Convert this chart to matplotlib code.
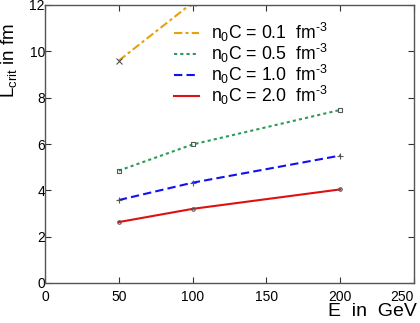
import matplotlib
matplotlib.use("Agg")
import matplotlib.pyplot as plt

plt.rcParams['font.family'] = ['Liberation Sans', 'DejaVu Sans']
plt.rcParams['mathtext.fontset'] = 'custom'
plt.rcParams['mathtext.rm'] = 'Liberation Sans'
plt.rcParams['mathtext.it'] = 'Liberation Sans'

energies = [50, 100, 200]
l_01 = [9.6, 12.1, 14.5]
l_05 = [4.85, 5.98, 7.47]
l_10 = [3.58, 4.33, 5.5]
l_20 = [2.63, 3.2, 4.04]
labels = ["n$_0$C = 0.1  fm$^{\u20103}$", "n$_0$C = 0.5  fm$^{\u20103}$",
          "n$_0$C = 1.0  fm$^{\u20103}$", "n$_0$C = 2.0  fm$^{\u20103}$"]
xticks = [0, 50, 100, 150, 200, 250]
yticks = [0, 2, 4, 6, 8, 10, 12]

fig = plt.figure(figsize=(4.2, 3.23), dpi=100)
ax = fig.add_axes([45/420, 40/323, 369/420, 278/323])

mc = '#555555'
ax.plot(energies, l_01, color='#e6a010', lw=1.5, dashes=(4, 1.5, 1.5, 1.5),
        marker='x', ms=4, mec=mc, mew=0.8, label=labels[0])
ax.plot(energies, l_05, color='#2e9a5a', lw=1.5, dashes=(1.5, 1.5),
        marker='s', ms=3.5, mec=mc, mfc='none', mew=0.8, label=labels[1])
ax.plot(energies, l_10, color='#1010f0', lw=1.5, dashes=(4, 2),
        marker='+', ms=4, mec=mc, mew=0.8, label=labels[2])
ax.plot(energies, l_20, color='#dd1111', lw=1.5,
        marker='o', ms=2.5, mec=mc, mfc='none', mew=0.8, label=labels[3])

ax.set_xlim(0, 250)
ax.set_ylim(0, 12)
ax.set_xticks(xticks)
ax.set_yticks(yticks)
ax.tick_params(direction='in', top=True, right=True, labelsize=10, length=4,
               width=0.8, colors='#333333', labelcolor='black')
ax.tick_params(axis='x', pad=5)
ax.tick_params(axis='y', pad=0)
ax.get_xticklabels()[-1].set_horizontalalignment('right')
for s in ax.spines.values():
    s.set_color('#555555')
    s.set_linewidth(1.0)

ax.set_xlabel("E  in  GeV", fontsize=14, ha='right', va='top')
ax.xaxis.set_label_coords(1.008, -0.072)
ax.set_ylabel("L$_{\\rm crit}$ in fm", fontsize=13.5, va='bottom')
ax.yaxis.set_label_coords(-0.07, 0.80)

leg = ax.legend(loc='upper right', bbox_to_anchor=(0.81, 1.0), frameon=False,
                fontsize=12.7, handlelength=1.43, handletextpad=0.7,
                labelspacing=-0.12)
for h in leg.legend_handles:
    h.set_marker('')

fig.savefig("out.png", dpi=100)
